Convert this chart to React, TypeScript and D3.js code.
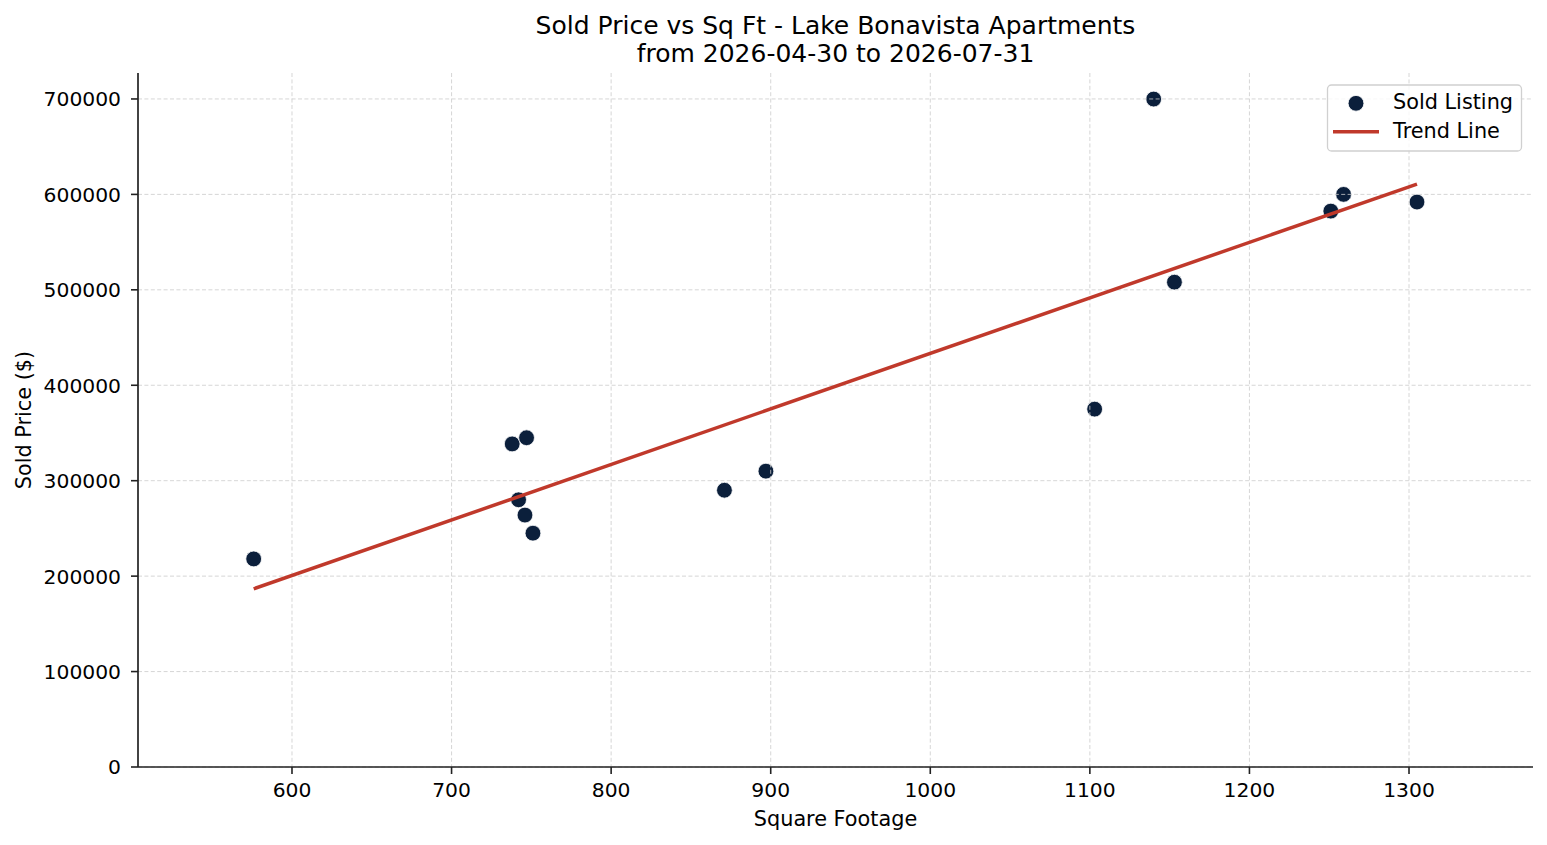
import React from "react";
import * as d3 from "d3";

const sqft = [576, 738, 747, 742, 746, 751, 871, 897, 1103, 1140, 1153, 1251, 1259, 1305];
const prices = [218000, 338500, 345000, 280000, 264000, 245000, 290000, 310000, 375000, 699900, 508000, 582500, 600000, 592000];
const xTicks = [600, 700, 800, 900, 1000, 1100, 1200, 1300];
const yTicks = [0, 100000, 200000, 300000, 400000, 500000, 600000, 700000];
const titleLines = ["Sold Price vs Sq Ft - Lake Bonavista Apartments", "from 2026-04-30 to 2026-07-31"];
const legendLabels = ["Sold Listing", "Trend Line"];

const W = 1547;
const H = 845;
const M = { left: 138, right: 1533, top: 73, bottom: 767 };
const FONT = "'DejaVu Sans', sans-serif";
const NAVY = "#0b1f3b";
const RED = "#c0392b";

export default function App() {
  const x = d3.scaleLinear().domain([503.5, 1377.7]).range([M.left, M.right]);
  const y = d3.scaleLinear().domain([0, 727200]).range([M.bottom, M.top]);

  // least squares trend line
  const mx = d3.mean(sqft) as number;
  const my = d3.mean(prices) as number;
  let sxy = 0;
  let sxx = 0;
  sqft.forEach((v, i) => {
    sxy += (v - mx) * (prices[i] - my);
    sxx += (v - mx) * (v - mx);
  });
  const slope = sxy / sxx;
  const icpt = my - slope * mx;
  const ext = d3.extent(sqft) as [number, number];
  const trend = ext.map((v) => [v, icpt + slope * v] as [number, number]);
  const line = d3
    .line<[number, number]>()
    .x((d) => x(d[0]))
    .y((d) => y(d[1]));

  const cx = (M.left + M.right) / 2;

  return (
    <svg
      width={W}
      height={H}
      style={{ position: "absolute", left: 0, top: 0, display: "block", background: "#fff" }}
      fontFamily={FONT}
    >
      <rect x={0} y={0} width={W} height={H} fill="#fff" />
      {/* title */}
      <text x={cx} y={34.3} textAnchor="middle" fontSize={25} fill="#000">
        {titleLines[0]}
      </text>
      <text x={cx} y={61.7} textAnchor="middle" fontSize={25} fill="#000">
        {titleLines[1]}
      </text>

      {/* points (below grid, like matplotlib defaults) */}
      {sqft.map((v, i) => (
        <circle key={i} cx={x(v)} cy={y(prices[i])} r={7.9} fill={NAVY} stroke="#fff" strokeWidth={0.8} />
      ))}

      {/* grid */}
      <g stroke="#cccccc" strokeWidth={0.8} strokeDasharray="4,2.4">
        {xTicks.map((t) => (
          <line key={"gx" + t} x1={x(t)} x2={x(t)} y1={M.top} y2={M.bottom} />
        ))}
        {yTicks.map((t) => (
          <line key={"gy" + t} x1={M.left} x2={M.right} y1={y(t)} y2={y(t)} />
        ))}
      </g>

      {/* trend line */}
      <path d={line(trend) as string} fill="none" stroke={RED} strokeWidth={3.5} />

      {/* spines */}
      <line x1={M.left} x2={M.left} y1={M.top} y2={M.bottom} stroke="#222" strokeWidth={1.7} />
      <line x1={M.left} x2={M.right} y1={M.bottom} y2={M.bottom} stroke="#222" strokeWidth={1.7} />

      {/* x ticks */}
      {xTicks.map((t) => (
        <g key={"xt" + t}>
          <line x1={x(t)} x2={x(t)} y1={M.bottom} y2={M.bottom + 7} stroke="#222" strokeWidth={1.6} />
          <text x={x(t)} y={797.3} textAnchor="middle" fontSize={20.3} fill="#000">
            {String(t)}
          </text>
        </g>
      ))}
      {/* y ticks */}
      {yTicks.map((t) => (
        <g key={"yt" + t}>
          <line x1={M.left - 7} x2={M.left} y1={y(t)} y2={y(t)} stroke="#222" strokeWidth={1.6} />
          <text x={M.left - 17} y={y(t) + 7.4} textAnchor="end" fontSize={20.3} fill="#000">
            {String(t)}
          </text>
        </g>
      ))}

      {/* axis labels */}
      <text x={cx} y={826} textAnchor="middle" fontSize={20.8} fill="#000">
        Square Footage
      </text>
      <text
        transform={`translate(31,${(M.top + M.bottom) / 2}) rotate(-90)`}
        textAnchor="middle"
        fontSize={20.8}
        fill="#000"
      >
        Sold Price ($)
      </text>

      {/* legend */}
      <g>
        <rect x={1327.5} y={85} width={194} height={66} rx={4} ry={4} fill="#fff" fillOpacity={0.8} stroke="#d0d0d0" strokeWidth={1.3} />
        <circle cx={1356} cy={103.3} r={7.9} fill={NAVY} stroke="#fff" strokeWidth={0.8} />
        <text x={1393} y={109.3} fontSize={20.8} fill="#000">
          {legendLabels[0]}
        </text>
        <line x1={1333} x2={1379} y1={131.7} y2={131.7} stroke={RED} strokeWidth={3.5} />
        <text x={1393} y={138.3} fontSize={20.8} fill="#000">
          {legendLabels[1]}
        </text>
      </g>
    </svg>
  );
}
